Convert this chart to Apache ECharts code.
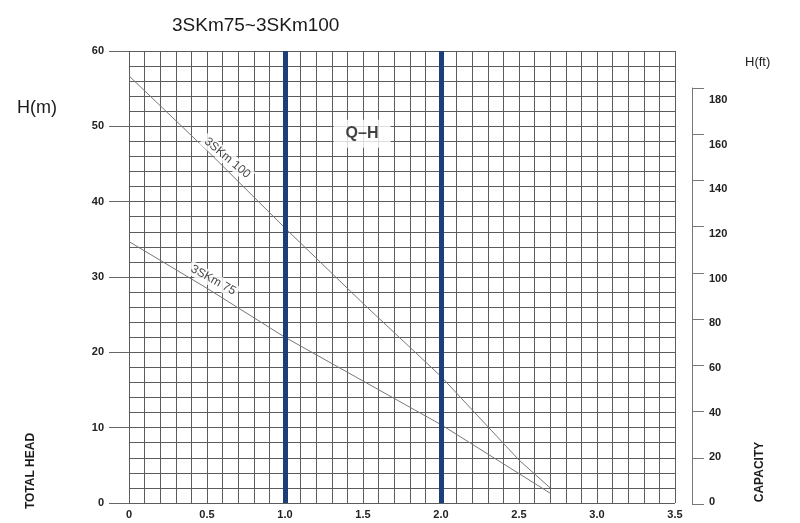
<!DOCTYPE html>
<html>
<head>
<meta charset="utf-8">
<script src="https://cdn.jsdelivr.net/npm/echarts@6/dist/echarts.min.js"></script>
<style>html,body{margin:0;padding:0;background:#fff;}#c{width:800px;height:523px;}</style>
</head>
<body>
<div id="c"></div>
<script>
// ---- data ----
const flow = [0, 0.5, 1.0, 1.5, 2.0, 2.5, 2.7];
const head100 = [56.7, 46.8, 36.5, 26.5, 16.8, 5.7, 2.0];
const head75 = [34.7, 28.5, 22.0, 16.2, 10.4, 3.9, 1.3];
const curveNames = ['3SKm 100', '3SKm 75'];
const labelQ = [0.63, 0.54];
const labelH = [45.8, 29.6];
const markQ = [1.0, 2.0];
const qhLabel = { text: 'Q\u2013H', q: 1.494, h: 49.0 };

const chart = echarts.init(document.getElementById('c'));
const gridColor = '#5c5c5c';
const FF = 'Liberation Sans, Arial, sans-serif';

function pairs(xs, ys) { return xs.map((x, i) => [x, ys[i]]); }

const option = {
  backgroundColor: '#fff',
  animation: false,
  grid: [
    { left: 129, right: 125, top: 51, bottom: 20 },
    { left: 600, right: 108, top: 88, bottom: 19 },
    { left: 600, right: 108, top: 100, bottom: 21 }
  ],
  xAxis: [
    {
      type: 'value', gridIndex: 0, min: 0, max: 3.5, interval: 0.5,
      axisLine: { show: false }, axisTick: { show: false },
      axisLabel: { margin: 6, color: '#222', fontSize: 11, fontWeight: 'bold', fontFamily: FF,
        formatter: v => v === 0 ? '0' : v.toFixed(1) },
      splitLine: { show: true, lineStyle: { color: gridColor, width: 1 } },
      minorTick: { show: false, splitNumber: 5 },
      minorSplitLine: { show: true, lineStyle: { color: gridColor, width: 1 } }
    },
    { type: 'value', gridIndex: 1, show: false, min: 0, max: 1 },
    { type: 'value', gridIndex: 2, show: false, min: 0, max: 1 }
  ],
  yAxis: [
    {
      type: 'value', gridIndex: 0, min: 0, max: 60, interval: 10,
      axisLine: { show: false, onZero: false },
      axisTick: { show: true, length: 20, lineStyle: { color: '#666' } },
      axisLabel: { margin: 25, color: '#222', fontSize: 11, fontWeight: 'bold', fontFamily: FF },
      splitLine: { show: true, lineStyle: { color: gridColor, width: 1 } },
      minorTick: { show: false, splitNumber: 5 },
      minorSplitLine: { show: true, lineStyle: { color: gridColor, width: 1 } }
    },
    {
      type: 'value', gridIndex: 1, position: 'right', min: 0, max: 180, interval: 20,
      axisLine: { show: true, onZero: false, lineStyle: { color: '#777', width: 1 } },
      axisTick: { show: true, length: 12, lineStyle: { color: '#777' } },
      axisLabel: { show: false },
      splitLine: { show: false }
    },
    {
      type: 'value', gridIndex: 2, position: 'right', min: 0, max: 180, interval: 20,
      axisLine: { show: false, onZero: false }, axisTick: { show: false },
      axisLabel: { margin: 17, color: '#222', fontSize: 11, fontWeight: 'bold', fontFamily: FF },
      splitLine: { show: false }
    }
  ],
  graphic: [
    { type: 'text', left: 172, top: 16, style: { text: '3SKm75~3SKm100', fontSize: 19, fontFamily: FF, fill: '#1a1a1a' } },
    { type: 'text', left: 17, top: 99, style: { text: 'H(m)', fontSize: 18, fontFamily: FF, fill: '#1a1a1a' } },
    { type: 'text', left: 745, top: 56, style: { text: 'H(ft)', fontSize: 13, fontFamily: FF, fill: '#1a1a1a' } },
    { type: 'text', x: 31, y: 471, rotation: Math.PI / 2, style: { text: 'TOTAL HEAD', fontSize: 12, fontWeight: 'bold', fontFamily: FF, fill: '#1a1a1a', align: 'center', verticalAlign: 'middle' } },
    { type: 'text', x: 760, y: 472, rotation: Math.PI / 2, style: { text: 'CAPACITY', fontSize: 12, fontWeight: 'bold', fontFamily: FF, fill: '#1a1a1a', align: 'center', verticalAlign: 'middle' } }
  ],
  series: [
    {
      type: 'line', name: curveNames[0], data: pairs(flow, head100), symbol: 'none',
      lineStyle: { color: '#777', width: 1 }, z: 3,
      markLine: {
        silent: true, symbol: 'none', label: { show: false },
        lineStyle: { color: '#1b3f79', width: 5, type: 'solid' },
        data: markQ.map(q => ({ xAxis: q }))
      }
    },
    {
      type: 'line', name: curveNames[1], data: pairs(flow, head75), symbol: 'none',
      lineStyle: { color: '#777', width: 1 }, z: 3
    },
    {
      type: 'scatter', symbolSize: 1, itemStyle: { color: 'rgba(0,0,0,0)' }, z: 5,
      data: [
        { value: [labelQ[0], labelH[0]], label: { rotate: -40, formatter: curveNames[0] } },
        { value: [labelQ[1], labelH[1]], label: { rotate: -29, formatter: curveNames[1] } }
      ],
      label: { show: true, position: 'inside', color: '#111', fontSize: 12, fontFamily: FF,
        backgroundColor: '#fff', padding: [1, 3] }
    },
    {
      type: 'scatter', symbolSize: 1, itemStyle: { color: 'rgba(0,0,0,0)' }, z: 5,
      data: [[qhLabel.q, qhLabel.h]],
      label: { show: true, position: 'inside', formatter: qhLabel.text, color: '#111', fontSize: 16,
        fontWeight: 'bold', fontFamily: FF, backgroundColor: '#fff', padding: [6, 12] }
    }
  ]
};
chart.setOption(option);
</script>
</body>
</html>
